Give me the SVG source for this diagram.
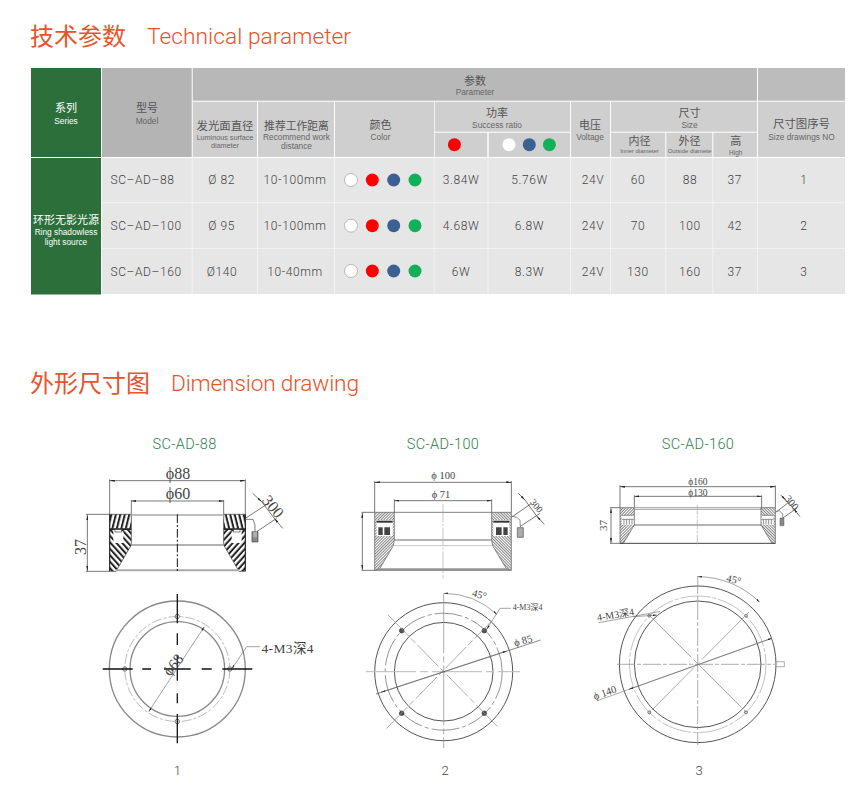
<svg xmlns="http://www.w3.org/2000/svg" width="864" height="802" viewBox="0 0 864 802">
<defs>
<style>
text{font-family:"Noto Sans CJK SC","Noto Sans",sans-serif}
.t{font-weight:400;fill:#e9522a;font-size:24px}
.te{font-family:"Roboto",sans-serif;font-weight:300;fill:#e9522a;font-size:22.700px}
.h{font-weight:400;fill:#555;font-size:11px;text-anchor:middle}
.s{font-family:"Liberation Sans",sans-serif;fill:#666;font-size:8.300px;text-anchor:middle}
.d{font-family:"Roboto",sans-serif;font-weight:300;font-size:12px;fill:#444;text-anchor:middle;letter-spacing:.6px}
.st{text-anchor:start}
.cap{font-family:"Roboto",sans-serif;font-weight:300;font-size:14.500px;fill:#2f7d4d;text-anchor:middle;letter-spacing:.4px}
.n{font-family:"Roboto",sans-serif;font-weight:300;font-size:13px;fill:#444;text-anchor:middle}
.dim{font-family:"Liberation Serif","Noto Sans CJK SC",serif;fill:#444;text-anchor:middle}
.l{fill:none;stroke:#444;stroke-width:2.200}
.a{marker-start:url(#arr);marker-end:url(#arr)}
.e{marker-end:url(#arr)}
.wh{fill:#fff;stroke:#aaa;stroke-width:.8}
.r{fill:#f00}.b{fill:#3a6192}.gr{fill:#12b058}
.c1{fill:none;stroke:#888;stroke-width:1.300}
.c2{fill:none;stroke:#555;stroke-width:1}
.thin{fill:none;stroke:#888;stroke-width:.7}
.ld{fill:none;stroke:#666;stroke-width:.6}
</style>
<marker id="arr" viewBox="0 0 10 4" refX="10" refY="2" markerWidth="7" markerHeight="3" orient="auto-start-reverse" markerUnits="strokeWidth"><path d="M0 0L10 2L0 4Z" fill="#222"/></marker>
<pattern id="hk1" width="13" height="13" patternUnits="userSpaceOnUse" patternTransform="rotate(14)"><rect width="13" height="13" fill="#fff"/><rect width="6" height="13" fill="#222"/></pattern>
<pattern id="hk2" width="13" height="13" patternUnits="userSpaceOnUse" patternTransform="rotate(-42)"><rect width="13" height="13" fill="#fff"/><rect width="6" height="13" fill="#222"/></pattern>
<pattern id="hg" width="6" height="6" patternUnits="userSpaceOnUse" patternTransform="rotate(45)"><rect width="6" height="6" fill="#fff"/><rect width="2.400" height="6" fill="#666"/></pattern>
</defs>
<rect width="864" height="802" fill="#fff"/>

<g id="titles">
<text class="t" x="30" y="45">技术参数</text><text class="te" x="147" y="44" textLength="204">Technical parameter</text>
<text class="t" x="30" y="392">外形尺寸图</text><text class="te" x="171" y="391" textLength="188">Dimension drawing</text>
</g>

<g id="table-bg">
<rect x="31" y="68" width="70" height="89" fill="#2c6f3b"/><rect x="31" y="158" width="70" height="136.500" fill="#2c6f3b"/>
<rect x="102" y="68" width="89.700" height="89" fill="#b4b4b4"/>
<rect x="192.700" y="68" width="564.300" height="32.700" fill="#b8b8b8"/><rect x="758" y="68" width="87" height="32.700" fill="#bcbcbc"/>
<g fill="#cfcfcf">
<rect x="192.700" y="101.700" width="64.300" height="55.300"/><rect x="258" y="101.700" width="76" height="55.300"/><rect x="335" y="101.700" width="99" height="55.300"/>
<rect x="434.700" y="101.700" width="135.300" height="30"/><rect x="434.700" y="132.700" width="52.600" height="24.300"/><rect x="488.700" y="132.700" width="81.300" height="24.300"/>
<rect x="571" y="101.700" width="39" height="55.300"/><rect x="611" y="101.700" width="146" height="30"/>
<rect x="611" y="132.700" width="54.300" height="24.300"/><rect x="666.300" y="132.700" width="46" height="24.300"/><rect x="713.300" y="132.700" width="43.700" height="24.300"/>
<rect x="758" y="101.700" width="87" height="55.300"/>
</g>
<rect x="102" y="158" width="743" height="136" fill="#e6e6e6"/>
<g stroke="#f3f3f3" stroke-width="1" fill="none">
<path d="M102 202.700H845M102 248.400H845"/>
<path d="M192.200 158V294M257.500 158V294M334.500 158V294M434.300 158V294M488 158V294M570.500 158V294M610.500 158V294M665.800 158V294M712.800 158V294M757.500 158V294"/>
</g>
</g>

<g id="table-head">
<text class="h" style="fill:#fff" x="66" y="112">系列</text><text class="s" style="fill:#fff" x="66" y="124">Series</text>
<text class="h" x="147" y="112">型号</text><text class="s" x="147" y="124">Model</text>
<text class="h" x="225" y="129.500" style="font-size:11.400px">发光面直径</text><text class="s" x="225" y="139.500" style="font-size:7.200px">Luminous surface</text><text class="s" x="225" y="147.500" style="font-size:7.200px">diameter</text>
<text class="h" x="296.500" y="129.500" style="font-size:10.800px">推荐工作距离</text><text class="s" x="296.500" y="139.500">Recommend work</text><text class="s" x="296.500" y="148.500">distance</text>
<text class="h" x="380.500" y="129">颜色</text><text class="s" x="380.500" y="140">Color</text>
<text class="h" x="475" y="85">参数</text><text class="s" x="475" y="94.500">Parameter</text>
<text class="h" x="497" y="117">功率</text><text class="s" x="497" y="127.500">Success ratio</text>
<text class="h" x="590" y="129">电压</text><text class="s" x="590" y="140">Voltage</text>
<text class="h" x="689.500" y="117">尺寸</text><text class="s" x="689.500" y="127.500">Size</text>
<text class="h" x="639.500" y="145">内径</text><text class="s" x="639.500" y="153" style="font-size:6px">Inner diameter</text>
<text class="h" x="689.500" y="145">外径</text><text class="s" x="689.500" y="153" style="font-size:6px">Outside diamete</text>
<text class="h" x="735.700" y="145">高</text><text class="s" x="735.700" y="154.500" style="font-size:6.500px">High</text>
<text class="h" x="801.500" y="127.500" style="font-size:11.400px">尺寸图序号</text><text class="s" x="801.500" y="139.500">Size drawings NO</text>
<circle class="r" cx="454.400" cy="144.700" r="6.500"/>
<circle cx="509" cy="144.700" r="6.500" fill="#fff"/><circle class="b" cx="529.300" cy="144.700" r="6.500"/><circle class="gr" cx="549.400" cy="144.700" r="6.500"/>
</g>

<g id="series">
<text class="h" x="66" y="224" style="fill:#fff">环形无影光源</text>
<text class="s" style="fill:#fff" x="66" y="235">Ring shadowless</text><text class="s" style="fill:#fff" x="66" y="245">light source</text>
</g>

<g id="row-1">
<text class="d st" x="110.500" y="184.300">SC–AD–88</text><text class="d" x="221.700" y="184.300">Ø 82</text><text class="d" x="295" y="184.300">10-100mm</text>
<circle class="wh" cx="351" cy="180" r="6.500"/><circle class="r" cx="372.300" cy="180" r="6.500"/><circle class="b" cx="393.700" cy="180" r="6.500"/><circle class="gr" cx="415" cy="180" r="6.500"/>
<text class="d" x="461" y="184.300">3.84W</text><text class="d" x="529.500" y="184.300">5.76W</text><text class="d" x="593" y="184.300">24V</text><text class="d" x="638" y="184.300">60</text><text class="d" x="690" y="184.300">88</text><text class="d" x="734.700" y="184.300">37</text><text class="d" x="804" y="184.300">1</text>
</g>
<g id="row-2">
<text class="d st" x="110.500" y="230">SC–AD–100</text><text class="d" x="221.700" y="230">Ø 95</text><text class="d" x="295" y="230">10-100mm</text>
<circle class="wh" cx="351" cy="225.700" r="6.500"/><circle class="r" cx="372.300" cy="225.700" r="6.500"/><circle class="b" cx="393.700" cy="225.700" r="6.500"/><circle class="gr" cx="415" cy="225.700" r="6.500"/>
<text class="d" x="461" y="230">4.68W</text><text class="d" x="529.500" y="230">6.8W</text><text class="d" x="593" y="230">24V</text><text class="d" x="638" y="230">70</text><text class="d" x="690" y="230">100</text><text class="d" x="734.700" y="230">42</text><text class="d" x="804" y="230">2</text>
</g>
<g id="row-3">
<text class="d st" x="110.500" y="275.600">SC–AD–160</text><text class="d" x="222" y="275.600">Ø140</text><text class="d" x="295" y="275.600">10-40mm</text>
<circle class="wh" cx="351" cy="271" r="6.500"/><circle class="r" cx="372.300" cy="271" r="6.500"/><circle class="b" cx="393.700" cy="271" r="6.500"/><circle class="gr" cx="415" cy="271" r="6.500"/>
<text class="d" x="461" y="275.600">6W</text><text class="d" x="529.500" y="275.600">8.3W</text><text class="d" x="593" y="275.600">24V</text><text class="d" x="638" y="275.600">130</text><text class="d" x="690" y="275.600">160</text><text class="d" x="734.700" y="275.600">37</text><text class="d" x="804" y="275.600">3</text>
</g>

<g id="drawing-1-side">
<text class="cap" x="184.500" y="449">SC-AD-88</text>
<g transform="translate(60 430) scale(.33333)">
<path class="l" d="M149 148V253M556 148V253M214 210V253M491 210V253M78 253H149M78 424H149M556 265L625 220M590 305L650 265"/>
<path class="l a" d="M149 152H556"/><path class="l a" d="M214 213H491"/><path class="l a" d="M82 255V423"/>
<path class="l e" d="M578 190L605 215"/><path class="l e" d="M668 295L643 265"/><path class="l" d="M605 215L643 265"/>
<g id="s1">
<path d="M149 296H214V345L168 424H149Z" fill="url(#hk2)" stroke="#333" stroke-width="2"/>
<path d="M149 253H214V296H149Z" fill="url(#hk1)" stroke="#333" stroke-width="2"/>
<rect x="160" y="304" width="30" height="35" fill="#fff"/><path d="M149 298H214" stroke="#222" stroke-width="4"/><rect x="165" y="299" width="19" height="7" fill="#fff" stroke="#444" stroke-width="2"/>
<path d="M149 253V424" stroke="#222" stroke-width="3" fill="none"/></g>
<use href="#s1" transform="translate(705 0) scale(-1 1)"/>
<path d="M214 255H491" stroke="#aaa" stroke-width="5"/><path d="M214 345H491" stroke="#999" stroke-width="4"/><path d="M168 421H537" stroke="#aaa" stroke-width="6"/>
<path d="M352 253V424" stroke="#111" stroke-width="3" stroke-dasharray="26 6 6 6"/>
<path d="M556 268H579L585 285V305" fill="none" stroke="#666" stroke-width="2.500"/>
<path d="M576 305H594V336H576Z" fill="#888" stroke="#444" stroke-width="2"/><path d="M582 305V322M588 305V322" stroke="#fff" stroke-width="2"/>
</g>
<text class="dim" x="178" y="478.500" font-size="16">ϕ88</text><text class="dim" x="178" y="499" font-size="16">ϕ60</text>
<text class="dim" font-size="16" transform="translate(86 547) rotate(-90)">37</text>
<text class="dim" font-size="16" transform="translate(269 510) rotate(50)">300</text>
</g>

<g id="drawing-1-plan">
<circle class="c1" cx="177.300" cy="669" r="68"/><circle class="c1" cx="177.300" cy="669" r="47.300"/>
<circle cx="177.300" cy="669" r="52.500" fill="none" stroke="#aaa" stroke-width=".8" stroke-dasharray="10 2 3 2"/>
<g fill="none" stroke="#666" stroke-width=".9"><circle cx="177.300" cy="616.500" r="2.200"/><circle cx="177.300" cy="721.500" r="2.200"/><circle cx="124.800" cy="669" r="2.200"/><circle cx="229.800" cy="669" r="2.200"/></g>
<path d="M102.700 669H132.700M142.300 669H151M164 669H190.700M201.700 669H211.700M222.300 669H252.300M177.300 594V623.300M177.300 633.300V645M177.300 655.700V680.700M177.300 693.300V703.300M177.300 714V743.300" stroke="#111" stroke-width="1.300"/>
<path d="M204.300 626.700L148.700 711.700" class="ld a"/>
<path d="M231.700 669L246.700 646.700H260" class="ld" style="marker-start:url(#arr)"/>
<text class="dim" font-size="15" transform="translate(177 668) rotate(-50)">ϕ68</text>
<text class="dim" x="261.500" y="653" font-size="13.500" style="text-anchor:start" textLength="52">4-M3深4</text>
<text class="n" x="177.300" y="775">1</text>
</g>

<g id="drawing-2-side">
<text class="cap" x="443" y="449">SC-AD-100</text>
<g transform="translate(340 430) scale(.33333)">
<path class="l" d="M104 153V247M514 153V247M163 208V247M455 208V247M64 247H104M64 421H104M514 262L575 220M540 290L600 250"/>
<path class="l a" d="M104 157H514"/><path class="l a" d="M163 212H455"/><path class="l a" d="M67 249V420"/>
<path class="l e" d="M535 190L555 210"/><path class="l e" d="M613 283L590 258"/><path class="l" d="M555 210L590 258"/>
<g id="s2"><path d="M104 247H163V330L160 347L118 418L104 421Z" fill="url(#hg)" stroke="#555" stroke-width="2"/>
<rect x="110" y="270" width="48" height="48" fill="#fff"/><path d="M110 272H158V278H110Z" fill="#333"/><path d="M115 292H128V315H115ZM133 292H150V315H133Z" fill="#444"/></g>
<use href="#s2" transform="translate(618 0) scale(-1 1)"/>
<path d="M163 247H455" stroke="#444" stroke-width="2"/><path d="M163 330H455" stroke="#666" stroke-width="3"/><path d="M160 347H458" stroke="#aaa" stroke-width="2"/>
<path d="M112 418H506" stroke="#999" stroke-width="6"/><path d="M104 421H514" stroke="#555" stroke-width="2"/>
<path d="M309 222V445" stroke="#aaa" stroke-width="2" stroke-dasharray="55 5 6 5"/>
<path d="M514 258L530 262L540 270L541 290" fill="none" stroke="#777" stroke-width="2.500"/>
<path d="M532 293H550V322H532Z" fill="#aaa" stroke="#555" stroke-width="2"/>
</g>
<text class="dim" x="443.300" y="479" font-size="10.500">ϕ 100</text><text class="dim" x="441" y="497.500" font-size="10.500">ϕ 71</text>
<text class="dim" font-size="9.500" transform="translate(534 508) rotate(50)">300</text>
</g>

<g id="drawing-2-plan">
<circle class="c2" cx="443.700" cy="671.700" r="69"/><circle class="c2" cx="443.700" cy="671.700" r="49.300"/>
<circle cx="443.700" cy="671.700" r="58.500" fill="none" stroke="#666" stroke-width=".7" stroke-dasharray="28 3 4 3"/>
<g fill="#555" stroke="#333" stroke-width=".7"><circle cx="401.700" cy="630.700" r="2.300"/><circle cx="484.300" cy="630.700" r="2.300"/><circle cx="401.700" cy="713.300" r="2.300"/><circle cx="484.300" cy="713.300" r="2.300"/></g>
<path d="M366 671.700H520" stroke="#bbb" stroke-width="1" stroke-dasharray="50 4 8 4"/>
<path d="M443.700 593.300V748" class="thin" stroke-dasharray="60 3 6 3"/>
<path d="M386.500 728.500L491.700 621M388 615L498 727" class="thin" stroke-dasharray="30 3 6 3"/>
<path d="M376 694L540.700 640" class="thin" style="stroke:#555"/>
<path d="M381 692.300L506.700 651" class="ld a"/>
<path d="M443.700 593.300A78.300 78.300 0 0 1 497 614.500" class="ld a"/>
<path d="M486.700 629.300L500 608.300H511" class="ld" style="marker-start:url(#arr)"/>
<text class="dim" font-size="10.500" transform="translate(478.500 598) rotate(15)">45°</text>
<text class="dim" font-size="8" x="512.700" y="610" style="text-anchor:start">4-M3深4</text>
<text class="dim" font-size="10.500" transform="translate(524 644) rotate(-16)">ϕ 85</text>
<text class="n" x="445" y="775">2</text>
</g>

<g id="drawing-3-side">
<text class="cap" x="698" y="449">SC-AD-160</text>
<g transform="translate(590 430) scale(.33333)">
<path class="l" d="M90 166V233M556 166V233M133 196V233M515 196V233M60 233H90M60 340H90M556 248L595 218M570 270L620 235"/>
<path class="l a" d="M90 170H556"/><path class="l a" d="M133 199H515"/><path class="l a" d="M63 235V339"/>
<path class="l e" d="M572 195L587 210"/><path class="l e" d="M630 260L610 235"/><path class="l" d="M587 210L610 235"/>
<g id="s3"><path d="M90 233H133V285L100 340H90Z" fill="url(#hg)" stroke="#555" stroke-width="2"/>
<rect x="95" y="255" width="36" height="30" fill="#fff"/><path d="M95 256H131M95 268H131M102 268V284M110 268V284M118 268V284M126 268V284" stroke="#777" stroke-width="2.500" fill="none"/></g>
<use href="#s3" transform="translate(646 0) scale(-1 1)"/>
<path d="M133 233H515M133 238H515" stroke="#777" stroke-width="2"/><path d="M133 285H515" stroke="#666" stroke-width="3"/><path d="M90 340H556" stroke="#444" stroke-width="3"/>
<path d="M322 225V348" stroke="#aaa" stroke-width="2" stroke-dasharray="30 4 6 4"/>
<path d="M556 245L568 242L578 252V262" fill="none" stroke="#777" stroke-width="2.500"/>
<path d="M570 264H582V287H570Z" fill="#888" stroke="#555" stroke-width="1.500"/>
</g>
<text class="dim" x="698" y="485" font-size="9.500">ϕ160</text><text class="dim" x="698" y="495.500" font-size="9.500">ϕ130</text>
<text class="dim" font-size="11" transform="translate(607 525.500) rotate(-90)">37</text>
<text class="dim" font-size="10.500" transform="translate(789 505) rotate(50)">300</text>
</g>

<g id="drawing-3-plan">
<circle class="c2" cx="697.700" cy="664.300" r="78.300"/><circle class="c2" cx="697.700" cy="664.300" r="63.300"/>
<circle cx="697.700" cy="664.300" r="68.300" fill="none" stroke="#999" stroke-width=".6" stroke-dasharray="30 2 4 2"/>
<g fill="#ccc" stroke="#555" stroke-width=".7"><circle cx="649.300" cy="615.700" r="1.500"/><circle cx="746" cy="615.700" r="1.500"/><circle cx="649.300" cy="712.300" r="1.500"/><circle cx="746" cy="712.300" r="1.500"/></g>
<path d="M617 664.300H775M697.700 576V745" class="thin" stroke-dasharray="18 2 4 2"/>
<path d="M652 710L749 612M649 615L746 712" class="thin" stroke-dasharray="60 3 5 3"/>
<path d="M597.300 700.700L771.700 638.300" class="thin"/>
<path d="M629 689.300L771.700 638.300" class="ld a"/>
<path d="M697.700 576.700A87.700 87.700 0 0 1 759.700 602.300" class="ld a"/>
<path d="M598.500 622.700L660 611.500" class="ld"/>
<path d="M633 616.800L657 615" class="ld e"/>
<path d="M775.700 661.700H784.300V666.700H775.700" class="thin"/>
<text class="dim" font-size="10" transform="translate(616 618) rotate(-9)">4-M3深4</text>
<text class="dim" font-size="10.500" transform="translate(606 696) rotate(-19)">ϕ 140</text>
<text class="dim" font-size="10.500" transform="translate(733 583) rotate(14)">45°</text>
<text class="n" x="699" y="775">3</text>
</g>
</svg>
